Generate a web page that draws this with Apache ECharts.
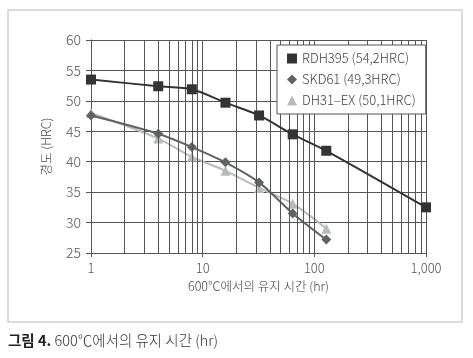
<!DOCTYPE html>
<html><head><meta charset="utf-8">
<script src="https://cdn.jsdelivr.net/npm/echarts@6/dist/echarts.min.js"></script>
<style>html,body{margin:0;padding:0;background:#fff}#c{width:473px;height:358px}</style>
</head><body><div id="c"></div>
<script>
const hours = [1, 4, 8, 16, 32, 64, 128];
const rdhHours = [1, 4, 8, 16, 32, 64, 128, 1000];
const rdh395 = [53.5, 52.4, 51.9, 49.7, 47.6, 44.5, 41.8, 32.5];
const skd61 = [47.6, 44.6, 42.4, 39.9, 36.6, 31.5, 27.2];
const dh31ex = [48.0, 43.8, 40.8, 38.5, 35.7, 33.1, 29.0];
const seriesNames = ['RDH395 (54,2HRC)', 'SKD61 (49,3HRC)', 'DH31–EX (50,1HRC)'];
const minorX = [2,3,4,5,6,7,8,9,20,30,40,50,60,70,80,90,200,300,400,500,600,700,800,900,10,100,1000];
const xTitle = '600℃에서의 유지 시간 (hr)';
const yTitle = '경도 (HRC)';
const captionBold = '그림 4.';
const captionText = ' 600℃에서의 유지 시간 (hr)';

const font = '"Noto Sans CJK KR", "Noto Sans", sans-serif';
const chart = echarts.init(document.getElementById('c'), null, {renderer: 'canvas'});
const pair = (xs, ys) => ys.map((v, i) => [xs[i], v]);

chart.setOption({
  animation: false,
  backgroundColor: '#fff',
  textStyle: {fontFamily: font},
  grid: {left: 91, right: 47, top: 40, bottom: 105, containLabel: false},
  xAxis: {
    type: 'log', logBase: 10, min: 1, max: 1000,
    name: xTitle, nameLocation: 'middle', nameGap: 27,
    nameTextStyle: {fontSize: 12.5, color: '#444', fontFamily: font, fontWeight: 300},
    axisLine: {show: true, onZero: false, lineStyle: {color: '#555', width: 1}},
    axisTick: {show: true, length: 4, lineStyle: {color: '#555'}},
    axisLabel: {fontSize: 13, color: '#555', margin: 9, fontFamily: font, fontWeight: 300,
      formatter: v => v >= 1000 ? '1,000' : String(v)},
    splitLine: {show: false}
  },
  yAxis: {
    type: 'value', min: 25, max: 60, interval: 5,
    name: yTitle, nameLocation: 'middle', nameGap: 38, nameRotate: 90,
    nameTextStyle: {fontSize: 12.5, color: '#444', fontFamily: font, fontWeight: 300},
    axisLine: {show: true, lineStyle: {color: '#555', width: 1}},
    axisTick: {show: true, length: 5, lineStyle: {color: '#555'}},
    axisLabel: {fontSize: 14, color: '#555', margin: 10, fontFamily: font, fontWeight: 300},
    splitLine: {show: true, lineStyle: {color: '#555', width: 1}}
  },
  legend: {
    orient: 'vertical', left: 277, top: 45, width: 148, z: 100, zlevel: 1,
    padding: [7, 10, 7, 10], itemGap: 8,
    backgroundColor: '#fff', borderColor: '#555', borderWidth: 1,
    itemWidth: 10, itemHeight: 10,
    textStyle: {fontSize: 13, color: '#444', fontFamily: font, fontWeight: 300},
    data: [
      {name: seriesNames[0], icon: 'rect'},
      {name: seriesNames[1], icon: 'diamond'},
      {name: seriesNames[2], icon: 'triangle'}
    ]
  },
  graphic: [
    {type: 'rect', shape: {x: 8, y: 10, width: 454, height: 312},
      style: {fill: 'none', stroke: '#cfcfcf', lineWidth: 1.5}, z: -10},
    {type: 'text', left: 8, top: 333, style: {
      text: '{b|' + captionBold + '}{n|' + captionText + '}',
      rich: {
        b: {fontSize: 14.5, fontWeight: 'bold', fill: '#222', fontFamily: font},
        n: {fontSize: 14.5, fill: '#333', fontFamily: font, fontWeight: 300}
      }}}
  ],
  series: [
    {
      name: 'grid-minor', type: 'line', data: [], silent: true, z: 1,
      markLine: {
        silent: true, symbol: 'none', label: {show: false},
        lineStyle: {color: '#555', width: 1, type: 'solid'},
        data: minorX.map(v => ({xAxis: v}))
      }
    },
    {
      name: seriesNames[0], type: 'line', smooth: 0.3, z: 5,
      data: pair(rdhHours, rdh395),
      symbol: 'rect', symbolSize: 10,
      lineStyle: {color: '#333', width: 2},
      itemStyle: {color: '#333'}
    },
    {
      name: seriesNames[1], type: 'line', smooth: 0.3, z: 4,
      data: pair(hours, skd61),
      symbol: 'diamond', symbolSize: 10,
      lineStyle: {color: '#5f6461', width: 2},
      itemStyle: {color: '#5f6461'}
    },
    {
      name: seriesNames[2], type: 'line', smooth: 0.3, z: 3,
      data: pair(hours, dh31ex),
      symbol: 'triangle', symbolSize: 10,
      lineStyle: {color: '#b8bab9', width: 2},
      itemStyle: {color: '#b8bab9'}
    }
  ]
});
</script></body></html>
